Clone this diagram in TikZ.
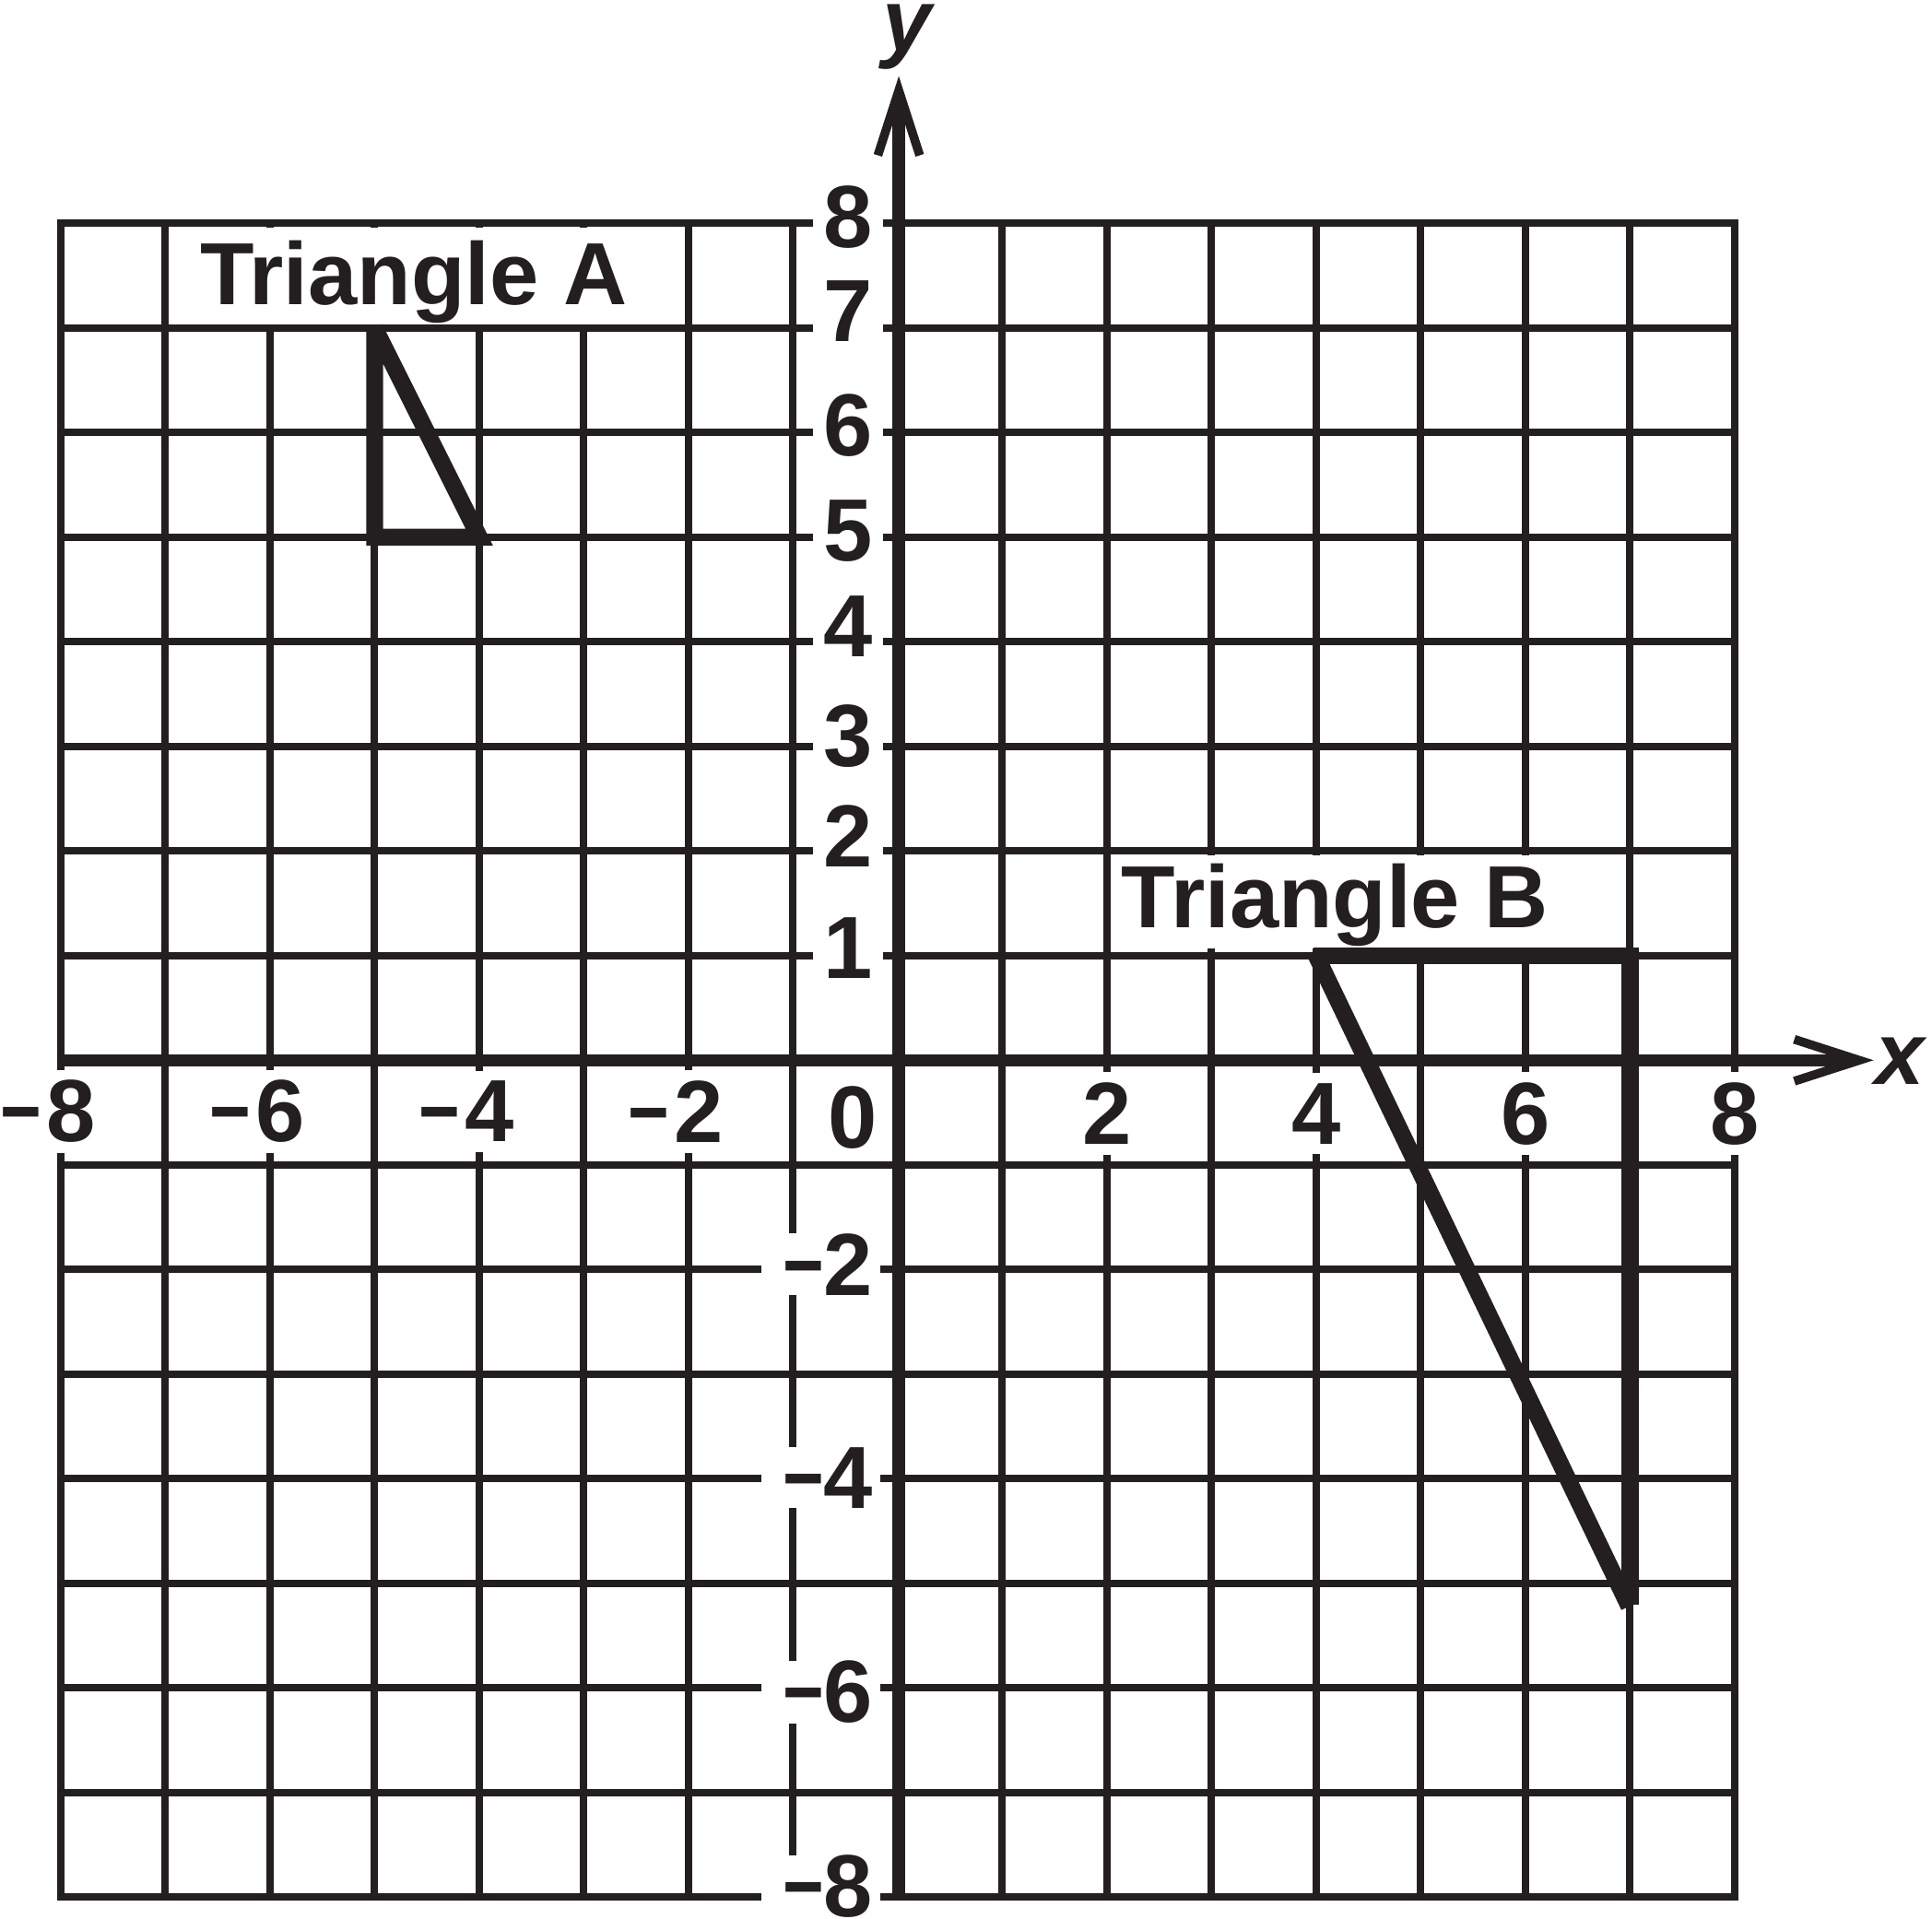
\documentclass[tikz,border=0pt]{standalone}
\usepackage{graphicx}
\usepackage{fontspec}
\setmainfont{Liberation Sans}
\definecolor{ink}{RGB}{35,31,32}
\newcommand{\narrowminus}{\scalebox{0.8}[1]{−}}
\tikzset{
  gridline/.style={draw=ink, line width=2pt, line cap=rect},
  axisline/.style={draw=ink, line width=3.4pt},
  arrowarm/.style={draw=ink, line width=2.4pt, line join=miter},
  triline/.style={draw=ink, line width=4.6pt, line join=miter},
  lab/.style={font=\fontsize{24}{28}\selectfont\bfseries, text=ink, fill=white, inner sep=0pt},
  ylabpos/.style={lab, minimum width=0.67cm, inner ysep=0.02cm},
  ylabneg/.style={lab, anchor=east, inner xsep=0.075cm, inner ysep=0pt},
  xlabpos/.style={lab, inner xsep=0.05cm, inner ysep=0.1cm},
  xlabneg/.style={lab, inner xsep=0.05cm, inner ysep=0.1cm},
  trilab/.style={lab, anchor=base, inner xsep=0.05cm, inner ysep=0pt, text height=0.73cm, text depth=0.19cm},
  axlab/.style={font=\fontsize{24}{28}\selectfont\bfseries\itshape, text=ink, inner sep=0pt, anchor=base},
}
\begin{document}
\begin{tikzpicture}
\useasboundingbox (-8.581,-8.200) rectangle (9.886,10.135);
% grid
\foreach \k in {-8,...,-1,1,2,...,8} {
  \draw[gridline] (\k,-8) -- (\k,8);
  \draw[gridline] (-8,\k) -- (8,\k);
}
% y labels
\foreach \v/\yc in {8/8.06,7/7.16,6/6.07,5/5.06,4/4.15,3/3.10,2/2.14,1/1.07}
  \node[ylabpos] (ly\v) at (-0.475,\yc) {\v};
\foreach \v/\yc in {2/-1.95,4/-3.99,6/-6.04,8/-7.9}
  \node[ylabneg] (lyn\v) at (-0.16,\yc) {\kern0.13cm\narrowminus\kern-0.01cm\v};
% x labels
\foreach \v in {2,4,6,8}
  \node[xlabpos] (lx\v) at (\v,-0.51) {\v};
\foreach \v in {2,4,6,8}
  \node[xlabneg] (lxn\v) at (-\v-0.12,-0.49) {\narrowminus\kern0.045cm\v};
\node[lab, inner sep=0.02cm] (l0) at (-0.427,-0.545) {0};
% triangle labels
\node[trilab] (ta) at (-4.626,7.227) {Triangle A};
\node[trilab, text height=0.69cm, text depth=0.2cm] (tb) at (4.18,1.271) {Triangle B};
% axes
\coordinate (xs) at (-8.035,0);
\coordinate (xe) at (9.12,0);
\coordinate (xt) at (9.19,0);
\coordinate (xa1) at (8.57,0.2);
\coordinate (xa2) at (8.57,-0.2);
\draw[axisline] (xs) -- (xe);
\draw[arrowarm] (xa1) -- (xt) -- (xa2);
\coordinate (ys) at (0.01,-7.97);
\coordinate (ye) at (0.01,9.2);
\coordinate (yt) at (0.01,9.27);
\coordinate (ya1) at (-0.19,8.65);
\coordinate (ya2) at (0.21,8.65);
\draw[axisline] (ys) -- (ye);
\draw[arrowarm] (ya1) -- (yt) -- (ya2);
\node[axlab] (xl) at (9.58,-0.235) {x};
\node[axlab] (yl) at (0.09,9.65) {y};
% triangles
\draw[triline] (-5,7) -- (-5,5) -- (-4,5) -- (-5,7);
\draw[triline] (3.97,1) -- (7,1) -- (7,-5.2);
\draw[triline] (4,1) -- (6.99,-5.22);
\end{tikzpicture}
\end{document}
